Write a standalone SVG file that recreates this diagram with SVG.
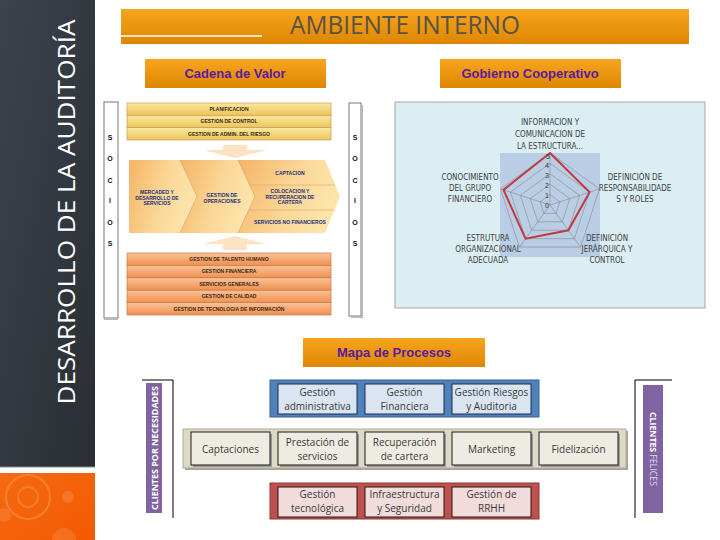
<svg xmlns="http://www.w3.org/2000/svg" width="720" height="540" viewBox="0 0 720 540">
<defs>
<linearGradient id="gDark" x1="0" y1="0" x2="1" y2="1"><stop offset="0" stop-color="#3c434c"/><stop offset="0.5" stop-color="#333940"/><stop offset="1" stop-color="#2a2e34"/></linearGradient>
<linearGradient id="gOr" x1="0" y1="0" x2="0" y2="1"><stop offset="0" stop-color="#f8a51e"/><stop offset="1" stop-color="#dd8602"/></linearGradient>
<linearGradient id="gRed" x1="0" y1="0" x2="1" y2="1"><stop offset="0" stop-color="#f46a12"/><stop offset="1" stop-color="#f35a00"/></linearGradient>
<linearGradient id="gYel" x1="0" y1="0" x2="0" y2="1"><stop offset="0" stop-color="#fbe8a0"/><stop offset="1" stop-color="#ecc55a"/></linearGradient>
<linearGradient id="gPeach" x1="0" y1="0" x2="1" y2="0.3"><stop offset="0" stop-color="#f4b466"/><stop offset="0.6" stop-color="#fbd797"/><stop offset="1" stop-color="#fde4ab"/></linearGradient>
<linearGradient id="gBand" x1="0" y1="0" x2="0" y2="1"><stop offset="0" stop-color="#fbc39a"/><stop offset="1" stop-color="#f0904e"/></linearGradient>
<style>
.vc{font-family:"Liberation Sans",Arial,sans-serif;font-size:5px;font-weight:bold;text-anchor:middle}
.vcb{fill:#3a2a10}
.vcm{fill:#23307a}
.soc{font-family:"Liberation Sans",Arial,sans-serif;font-size:7px;font-weight:bold;fill:#111;text-anchor:middle}
.btn{font-family:"Liberation Sans",Arial,sans-serif;font-size:13px;font-weight:bold;fill:#5c1a9e;text-anchor:middle}
.rl{font-family:"Liberation Sans Narrow","DejaVu Sans Condensed","Liberation Sans",sans-serif;font-size:8px;fill:#404040;text-anchor:middle}
.num{font-family:"Liberation Sans",sans-serif;font-size:7px;fill:#404040;text-anchor:middle}
.pm{font-family:"Open Sans","Liberation Sans",sans-serif;font-size:10px;fill:#3a3a3a;text-anchor:middle}
.grid{fill:none;stroke:#8a8a8a;stroke-width:0.6}
.band{stroke:#c0904a;stroke-width:0.6}
.bandO{stroke:#c06a38;stroke-width:0.6}
</style>
</defs>
<rect width="720" height="540" fill="#ffffff"/>

<g id="side-panel">
<rect x="0" y="0" width="95" height="467" fill="url(#gDark)"/>
<line x1="0" y1="467" x2="95" y2="467" stroke="#8a8a8a" stroke-width="1"/>
<rect x="0" y="473" width="95" height="67" fill="url(#gRed)"/>
<circle cx="28" cy="497" r="22" fill="none" stroke="#f8924a" stroke-width="2" opacity="0.6"/>
<circle cx="28" cy="497" r="10" fill="none" stroke="#f8924a" stroke-width="2" opacity="0.5"/>
<circle cx="68" cy="497" r="6" fill="#f7843a" opacity="0.6"/>
<circle cx="4" cy="515" r="7" fill="#f7843a" opacity="0.5"/>
<circle cx="64" cy="540" r="12" fill="#f7843a" opacity="0.5"/>
<text transform="translate(75,212) rotate(-90)" text-anchor="middle" font-family="'Open Sans','Liberation Sans',sans-serif" font-size="24" fill="#ffffff" textLength="385" lengthAdjust="spacingAndGlyphs">DESARROLLO DE LA AUDITORÍA</text>
</g>

<g id="title">
<rect x="121" y="9" width="568" height="35" fill="url(#gOr)"/>
<line x1="121" y1="36" x2="262" y2="36" stroke="#ffffff" stroke-width="1.5"/>
<text x="405" y="34" text-anchor="middle" font-family="'Open Sans','Liberation Sans',sans-serif" font-size="25" fill="#5a5244" textLength="230" lengthAdjust="spacingAndGlyphs">AMBIENTE INTERNO</text>
</g>

<g id="btn-cadena">
<rect x="145" y="59" width="181" height="29" fill="url(#gOr)"/>
<text class="btn" x="235" y="78">Cadena de Valor</text>
</g>
<g id="btn-gobierno">
<rect x="440" y="59" width="181" height="29" fill="url(#gOr)"/>
<text class="btn" x="530" y="78">Gobierno Cooperativo</text>
</g>

<g id="cadena-valor">
<rect x="104" y="102" width="14" height="216" fill="#fff" stroke="#555" stroke-width="0.8"/>
<rect x="104" y="318" width="14" height="2" fill="#b8b8b8"/>
<g class="soc"><text x="110" y="140">S</text><text x="110" y="161">O</text><text x="110" y="183">C</text><text x="110" y="203">I</text><text x="110" y="225">O</text><text x="110" y="246">S</text></g>
<rect x="349" y="103" width="12" height="213" fill="#fff" stroke="#555" stroke-width="0.8"/>
<rect x="361" y="105" width="2" height="213" fill="#b8b8b8"/><rect x="351" y="316" width="12" height="2" fill="#b8b8b8"/>
<g class="soc"><text x="355" y="140">S</text><text x="355" y="161">O</text><text x="355" y="183">C</text><text x="355" y="203">I</text><text x="355" y="225">O</text><text x="355" y="246">S</text></g>

<rect class="band" x="127" y="103" width="204" height="12.3" fill="url(#gYel)"/>
<rect class="band" x="127" y="115.3" width="204" height="12.3" fill="url(#gYel)"/>
<rect class="band" x="127" y="127.6" width="204" height="12.4" fill="url(#gYel)"/>
<text class="vc vcb" x="229" y="111">PLANIFICACION</text>
<text class="vc vcb" x="229" y="123.3">GESTION  DE CONTROL</text>
<text class="vc vcb" x="229" y="135.7">GESTION  DE ADMIN.  DEL  RIESGO</text>

<polygon points="223,145 247,145 247,150 267,150 235,158 203,150 223,150" fill="#fde2c4"/>

<path d="M129,160 L180,160 L197,196.5 L180,233 L129,233 Z" fill="url(#gPeach)"/>
<path d="M180,160 L238,160 L255,196.5 L238,233 L180,233 L197,196.5 Z" fill="url(#gPeach)"/>
<path d="M238,160 L325,160 L340,196.5 L325,233 L238,233 L255,196.5 Z" fill="url(#gPeach)"/>
<path d="M180,160 L197,196.5 L180,233 M238,160 L255,196.5 L238,233" fill="none" stroke="#d49a5a" stroke-width="0.6"/>
<path d="M249,185 H335 M249,210 H334" fill="none" stroke="#d8a868" stroke-width="0.6"/>
<text class="vc vcm" x="157" y="194">MERCADEO Y</text>
<text class="vc vcm" x="157" y="199.5">DESARROLLO DE</text>
<text class="vc vcm" x="157" y="205">SERVICIOS</text>
<text class="vc vcm" x="222" y="197">GESTION DE</text>
<text class="vc vcm" x="222" y="202.5">OPERACIONES</text>
<text class="vc vcm" x="290" y="175">CAPTACION</text>
<text class="vc vcm" x="290" y="193">COLOCACION Y</text>
<text class="vc vcm" x="290" y="198.5">RECUPERACION DE</text>
<text class="vc vcm" x="290" y="204">CARTERA</text>
<text class="vc vcm" x="290" y="224">SERVICIOS NO FINANCIEROS</text>

<polygon points="235,236 267,244 247,244 247,250 223,250 223,244 203,244" fill="#fde2c4"/>

<rect class="bandO" x="127" y="253" width="204" height="12.4" fill="url(#gBand)"/>
<rect class="bandO" x="127" y="265.4" width="204" height="12.4" fill="url(#gBand)"/>
<rect class="bandO" x="127" y="277.8" width="204" height="12.4" fill="url(#gBand)"/>
<rect class="bandO" x="127" y="290.2" width="204" height="12.4" fill="url(#gBand)"/>
<rect class="bandO" x="127" y="302.6" width="204" height="12.4" fill="url(#gBand)"/>
<text class="vc vcb" x="229" y="261">GESTION  DE TALENTO  HUMANO</text>
<text class="vc vcb" x="229" y="273.4">GESTION  FINANCIERA</text>
<text class="vc vcb" x="229" y="285.8">SERVICIOS  GENERALES</text>
<text class="vc vcb" x="229" y="298.2">GESTION  DE CALIDAD</text>
<text class="vc vcb" x="229" y="310.6">GESTION  DE TECNOLOGIA  DE INFORMACIÓN</text>
</g>

<g id="gobierno-radar">
<rect x="395" y="102" width="310" height="206" fill="#dbeef4" stroke="#a6a6a6" stroke-width="1"/>
<rect x="500" y="153" width="100" height="104" fill="#b9cde5"/>
<polygon class="grid" points="550,153 599.46,188.93 580.57,247.07 519.43,247.07 500.54,188.93"/>
<polygon class="grid" points="550,163.4 589.57,192.15 574.45,238.65 525.55,238.65 510.43,192.15"/>
<polygon class="grid" points="550,173.8 579.67,195.36 568.34,230.24 531.66,230.24 520.33,195.36"/>
<polygon class="grid" points="550,184.2 569.78,198.57 562.23,221.83 537.77,221.83 530.22,198.57"/>
<polygon class="grid" points="550,194.6 559.89,201.79 556.11,213.41 543.89,213.41 540.11,201.79"/>
<path class="grid" d="M550,205 L550,153 M550,205 L599.46,188.93 M550,205 L580.57,247.07 M550,205 L519.43,247.07 M550,205 L500.54,188.93"/>
<polygon points="550,153 589.57,192.15 568.34,230.24 525.55,238.65 503.51,189.9" fill="none" stroke="#c0393b" stroke-width="2"/>
<g class="num"><text x="548" y="159">5</text><text x="547" y="168">4</text><text x="547" y="178">3</text><text x="547" y="188">2</text><text x="547" y="198">1</text><text x="547" y="208">0</text></g>
<text class="rl" x="550" y="125">INFORMACION Y</text>
<text class="rl" x="550" y="137">COMUNICACION DE</text>
<text class="rl" x="550" y="149">LA ESTRUCTURA...</text>
<text class="rl" x="470" y="180">CONOCIMIENTO</text>
<text class="rl" x="470" y="191">DEL GRUPO</text>
<text class="rl" x="470" y="202">FINANCIERO</text>
<text class="rl" x="635" y="180">DEFINICIÓN DE</text>
<text class="rl" x="635" y="191">RESPONSABILIDADE</text>
<text class="rl" x="635" y="202">S Y ROLES</text>
<text class="rl" x="607" y="241">DEFINICIÓN</text>
<text class="rl" x="607" y="252">JERÁRQUICA  Y</text>
<text class="rl" x="607" y="263">CONTROL</text>
<text class="rl" x="488" y="241">ESTRUTURA</text>
<text class="rl" x="488" y="252">ORGANIZACIONAL</text>
<text class="rl" x="488" y="263">ADECUADA</text>
</g>

<g id="btn-mapa">
<rect x="303" y="338" width="182" height="29" fill="url(#gOr)"/>
<text class="btn" x="394" y="357">Mapa de Procesos</text>
</g>

<g id="mapa-procesos">
<path d="M142,380 H173 V518" fill="none" stroke="#000" stroke-width="1"/>
<path d="M672,380 H635 V518" fill="none" stroke="#000" stroke-width="1"/>
<rect x="146" y="383" width="16" height="130" fill="#8064a2"/>
<text transform="translate(157.5,448) rotate(-90)" text-anchor="middle" font-family="'Open Sans','Liberation Sans',sans-serif" font-size="8.5" font-weight="bold" fill="#ffffff" textLength="124" lengthAdjust="spacingAndGlyphs">CLIENTES POR NECESIDADES</text>
<rect x="643" y="385" width="20" height="128" fill="#8064a2"/>
<text transform="translate(649.5,449) rotate(90)" text-anchor="middle" font-family="'Open Sans','Liberation Sans',sans-serif" font-size="8.5" font-weight="bold" fill="#ffffff" textLength="74" lengthAdjust="spacingAndGlyphs">CLIENTES <tspan fill="#e4dcef" font-weight="normal">FELICES</tspan></text>

<rect x="270" y="380" width="269" height="37" fill="#4f81bd" stroke="#3a6394" stroke-width="1"/>
<g fill="#dbe5f1" stroke="#1f2f4a" stroke-width="1">
<rect x="278" y="384" width="79" height="30"/><rect x="365" y="384" width="79" height="30"/><rect x="452" y="384" width="79" height="30"/>
</g>
<text class="pm" x="317.5" y="396">Gestión</text><text class="pm" x="317.5" y="410">administrativa</text>
<text class="pm" x="404.5" y="396">Gestión</text><text class="pm" x="404.5" y="410">Financiera</text>
<text class="pm" x="491.5" y="396">Gestión Riesgos</text><text class="pm" x="491.5" y="410">y Auditoria</text>

<rect x="185" y="431" width="443" height="39" fill="#a8a498"/>
<rect x="183" y="429" width="443" height="39" fill="#ddd9c6" stroke="#b0aa94" stroke-width="1"/>
<g fill="#9a9a9a"><rect x="193" y="434" width="79" height="33"/><rect x="280" y="434" width="79" height="33"/><rect x="367" y="434" width="79" height="33"/><rect x="454" y="434" width="79" height="33"/><rect x="541" y="434" width="79" height="33"/></g>
<g fill="#eeece2" stroke="#1a1a1a" stroke-width="1">
<rect x="191" y="432" width="79" height="33"/><rect x="278" y="432" width="79" height="33"/><rect x="365" y="432" width="79" height="33"/><rect x="452" y="432" width="79" height="33"/><rect x="539" y="432" width="79" height="33"/>
</g>
<text class="pm" x="230.5" y="453">Captaciones</text>
<text class="pm" x="317.5" y="446">Prestación de</text><text class="pm" x="317.5" y="460">servicios</text>
<text class="pm" x="404.5" y="446">Recuperación</text><text class="pm" x="404.5" y="460">de cartera</text>
<text class="pm" x="491.5" y="453">Marketing</text>
<text class="pm" x="578.5" y="453">Fidelización</text>

<rect x="270" y="483" width="269" height="36" fill="#c0504d" stroke="#8c3836" stroke-width="1"/>
<g fill="#f2dcdb" stroke="#1a1a1a" stroke-width="1">
<rect x="278" y="487" width="79" height="30"/><rect x="365" y="487" width="79" height="30"/><rect x="452" y="487" width="79" height="30"/>
</g>
<text class="pm" x="317.5" y="498">Gestión</text><text class="pm" x="317.5" y="512">tecnológica</text>
<text class="pm" x="404.5" y="498">Infraestructura</text><text class="pm" x="404.5" y="512">y Seguridad</text>
<text class="pm" x="491.5" y="498">Gestión de</text><text class="pm" x="491.5" y="512">RRHH</text>
</g>
</svg>
